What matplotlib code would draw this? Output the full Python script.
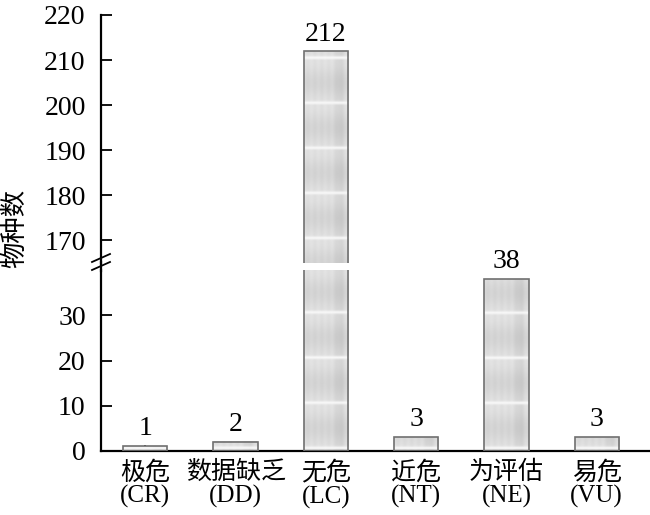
import numpy as np
import matplotlib
matplotlib.use("Agg")
import matplotlib.pyplot as plt
from matplotlib.lines import Line2D

plt.rcParams['font.family'] = ['Liberation Serif', 'Noto Sans CJK SC']

cats = ["极危\n(CR)", "数据缺乏\n(DD)", "无危\n(LC)", "近危\n(NT)", "为评估\n(NE)", "易危\n(VU)"]
counts = [1, 2, 212, 3, 38, 3]

FS = 20
W = 0.49

fig = plt.figure(figsize=(6.5, 5.15), dpi=100)
L, R = 101/650, 650/650
ax_hi = fig.add_axes([L, 1-263/515, R-L, (263-15)/515])
ax_lo = fig.add_axes([L, 1-451/515, R-L, (451-270)/515])


def texture(v):
    # grey fill with soft blotches, a darker vertical stripe and soft white streaks every 10 units
    n = max(int(v * 6), 12)
    xs = np.linspace(0, 1, 40)
    ys = np.linspace(0, v, n)
    X, Y = np.meshgrid(xs, ys)
    ph = (Y / 10.0) % 1.0
    t = 0.89 - 0.05*np.exp(-((X - 0.8)/0.1)**2) - 0.05*(0.5 + 0.5*np.cos(2*np.pi*(ph - 0.5)))
    t = t - 0.02*np.sin(X*20)**2
    streak = np.exp(-((ph - 0.06)/0.035)**2)
    t = t + (0.97 - t)*streak
    return t[::-1]


x = np.arange(len(cats))
for ax, lo, hi in [(ax_hi, 165, 220), (ax_lo, 0, 40)]:
    bars = ax.bar(x, counts, width=W, color='none', edgecolor='#707070', linewidth=1.2, zorder=3)
    for b, v in zip(bars, counts):
        ax.imshow(texture(v), cmap='gray', vmin=0, vmax=1, aspect='auto',
                  extent=[b.get_x(), b.get_x()+W, 0, v], zorder=2, interpolation='bilinear')
    ax.set_xlim(-0.49, 5.59)
    ax.set_ylim(lo, hi)
    ax.spines['top'].set_visible(False)
    ax.spines['right'].set_visible(False)
    ax.tick_params(direction='in', labelsize=FS, length=8, width=1.3, pad=11)
    ax.spines['left'].set_linewidth(1.6)
    ax.spines['bottom'].set_linewidth(1.6)

ax_hi.set_yticks(range(170, 221, 10))
ax_hi.spines['bottom'].set_visible(False)
ax_hi.set_xticks([])
ax_lo.set_yticks(range(0, 31, 10))
ax_lo.set_xticks(x)
ax_lo.set_xticklabels(cats, fontsize=FS-2, linespacing=1.05)
ax_lo.tick_params(axis='x', length=4, pad=7)

for i, v in enumerate(counts):
    ax = ax_hi if v > 40 else ax_lo
    ax.text(i, v + (0.8 if v > 40 else 1.2), str(v), ha='center', va='bottom', fontsize=FS)

# continuous spine through the break with slash marks
fig.add_artist(Line2D([L, L], [1-271/515, 1-262/515], color='black', lw=1.6))
for yb in (258, 266):
    fig.add_artist(Line2D([(L*650-9)/650, (L*650+9)/650], [1-(yb+4)/515, 1-(yb-4)/515],
                          color='black', lw=1.3))

fig.text(15/650, 1-228/515, "物种数", rotation=90, ha='center', va='center', fontsize=FS-1)

fig.savefig("out.png", dpi=100)
